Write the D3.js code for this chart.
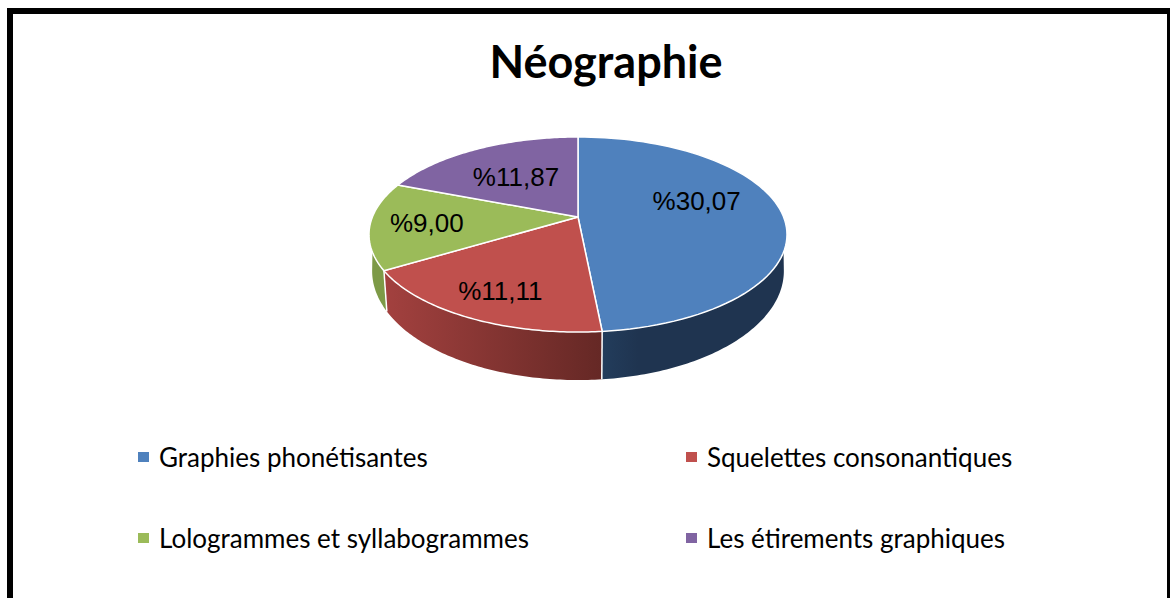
<!DOCTYPE html>
<html>
<head>
<meta charset="utf-8">
<script src="https://cdn.jsdelivr.net/npm/d3@7/dist/d3.min.js"></script>
<style>
  html, body { margin: 0; padding: 0; background: #fff; overflow: hidden; }
</style>
</head>
<body>
<div id="chart"></div>
<script>
var categories = ["Graphies phonétisantes", "Squelettes consonantiques", "Lologrammes et syllabogrammes", "Les étirements graphiques"];
var values = [30.07, 11.11, 9.00, 11.87];
var valueLabels = ["%30,07", "%11,11", "%9,00", "%11,87"];
var colors = ["#4f81bd", "#c0504d", "#9bbb59", "#8064a2"];
var titleText = "Néographie";

var width = 1170,
    height = 598;

var svg = d3.select("#chart")
    .append("svg")
    .attr("width", width)
    .attr("height", height)
    .style("display", "block");

// frame, it runs past the bottom of the picture
svg.append("rect")
    .attr("x", 10).attr("y", 11)
    .attr("width", 1160).attr("height", 640)
    .attr("fill", "#fff")
    .attr("stroke", "#000")
    .attr("stroke-width", 6);

svg.append("text")
    .attr("x", 606).attr("y", 78)
    .attr("text-anchor", "middle")
    .style("font", "bold 45px Lato, sans-serif")
    .text(titleText);

// tilted disc, perspective from the top
var cx = 578, cy = 217, rx = 205.6, ry = 94.4, persp = 0.1795;

function project(a, r, drop, sx, sy) {
  var u = Math.sin(a) * r, v = -Math.cos(a) * r;
  var w = 1 - persp * v;
  return [cx + sx * rx * u / w, cy + drop + sy * ry * v / w];
}
function topPoint(a, r) { return project(a, r, 0, 1, 1); }
// the lower rim is a bit narrower and deeper than the top one
function lowPoint(a) { return project(a, 1, 34.4, 0.985, 1.118); }

var pie = d3.pie().sort(null).value(function(d) { return d; });
var slices = pie(values);
var line = d3.line();
var angleSteps = d3.scaleLinear().domain([0, 1]);

function arcAngles(a0, a1) {
  angleSteps.range([a0, a1]);
  return d3.range(0, 1.0001, 1 / 80).map(angleSteps);
}

var rad = Math.PI / 180;
var defs = svg.append("defs");
var wallStops = [
  [["#233d5c", 0], ["#1f3450", 0.2], ["#1f3450", 1]],
  [["#a3413f", 0], ["#652825", 1]],
  [["#7d9a47", 0], ["#7d9a47", 1]]
];
wallStops.forEach(function(stops, i) {
  var g = defs.append("linearGradient").attr("id", "wall-" + i);
  stops.forEach(function(s) {
    g.append("stop").attr("offset", s[1]).attr("stop-color", s[0]);
  });
});

// walls only where the rim faces the viewer
var walls = slices.slice(0, 3).map(function(s, i) {
  return {
    i: i,
    top0: Math.max(s.startAngle, 110.4 * rad), top1: Math.min(s.endAngle, 249.6 * rad),
    low0: Math.max(s.startAngle, 100 * rad), low1: Math.min(s.endAngle, 260 * rad)
  };
});

svg.selectAll(".wall")
    .data(walls)
    .enter()
    .append("path")
    .attr("class", "wall")
    .attr("d", function(d) {
      var upper = arcAngles(d.top0, d.top1).map(function(a) { return topPoint(a, 1); });
      var lower = arcAngles(d.low0, d.low1).reverse().map(lowPoint);
      return line(upper.concat(lower)) + "Z";
    })
    .attr("fill", function(d) { return "url(#wall-" + d.i + ")"; });

// white edge between the walls
svg.selectAll(".wall-edge")
    .data(slices.slice(0, 2))
    .enter()
    .append("path")
    .attr("class", "wall-edge")
    .attr("d", function(d) { return line([topPoint(d.endAngle, 1), lowPoint(d.endAngle)]); })
    .attr("stroke", "#fff")
    .attr("stroke-width", 1.5);

svg.selectAll(".slice")
    .data(slices)
    .enter()
    .append("path")
    .attr("class", "slice")
    .attr("d", function(d) {
      var pts = [topPoint(0, 0)].concat(arcAngles(d.startAngle, d.endAngle).map(function(a) { return topPoint(a, 1); }));
      return line(pts) + "Z";
    })
    .attr("fill", function(d, i) { return colors[i]; })
    .attr("stroke", "#fff")
    .attr("stroke-width", 1.5);

// data labels near the middle of each slice, then nudged by hand
var labelRadius = [0.62, 0.55, 0.72, 0.62];
var labelNudge = [[-8, -13], [-22, 23], [-2, 0], [4, 4]];
function labelPos(d, i) {
  var p = topPoint((d.startAngle + d.endAngle) / 2, labelRadius[i]);
  return [p[0] + labelNudge[i][0], p[1] + labelNudge[i][1]];
}
svg.selectAll(".value-label")
    .data(slices)
    .enter()
    .append("text")
    .attr("class", "value-label")
    .attr("x", function(d, i) { return labelPos(d, i)[0]; })
    .attr("y", function(d, i) { return labelPos(d, i)[1]; })
    .attr("dy", ".35em")
    .attr("text-anchor", "middle")
    .style("font", "26px 'Liberation Sans', Arial, sans-serif")
    .text(function(d, i) { return valueLabels[i]; });

var legendX = d3.scaleOrdinal().domain([0, 1]).range([138, 686]);
var legendY = d3.scaleOrdinal().domain([0, 1]).range([458, 539]);

var legend = svg.selectAll(".legend")
    .data(categories)
    .enter()
    .append("g")
    .attr("class", "legend")
    .attr("transform", function(d, i) { return "translate(" + legendX(i % 2) + "," + legendY(Math.floor(i / 2)) + ")"; });

legend.append("rect")
    .attr("x", 0).attr("y", -6)
    .attr("width", 11).attr("height", 10)
    .attr("fill", function(d, i) { return colors[i]; });

legend.append("text")
    .attr("x", 21)
    .attr("dy", ".35em")
    .style("font", "26px Lato, sans-serif")
    .text(function(d) { return d; });
</script>
</body>
</html>
